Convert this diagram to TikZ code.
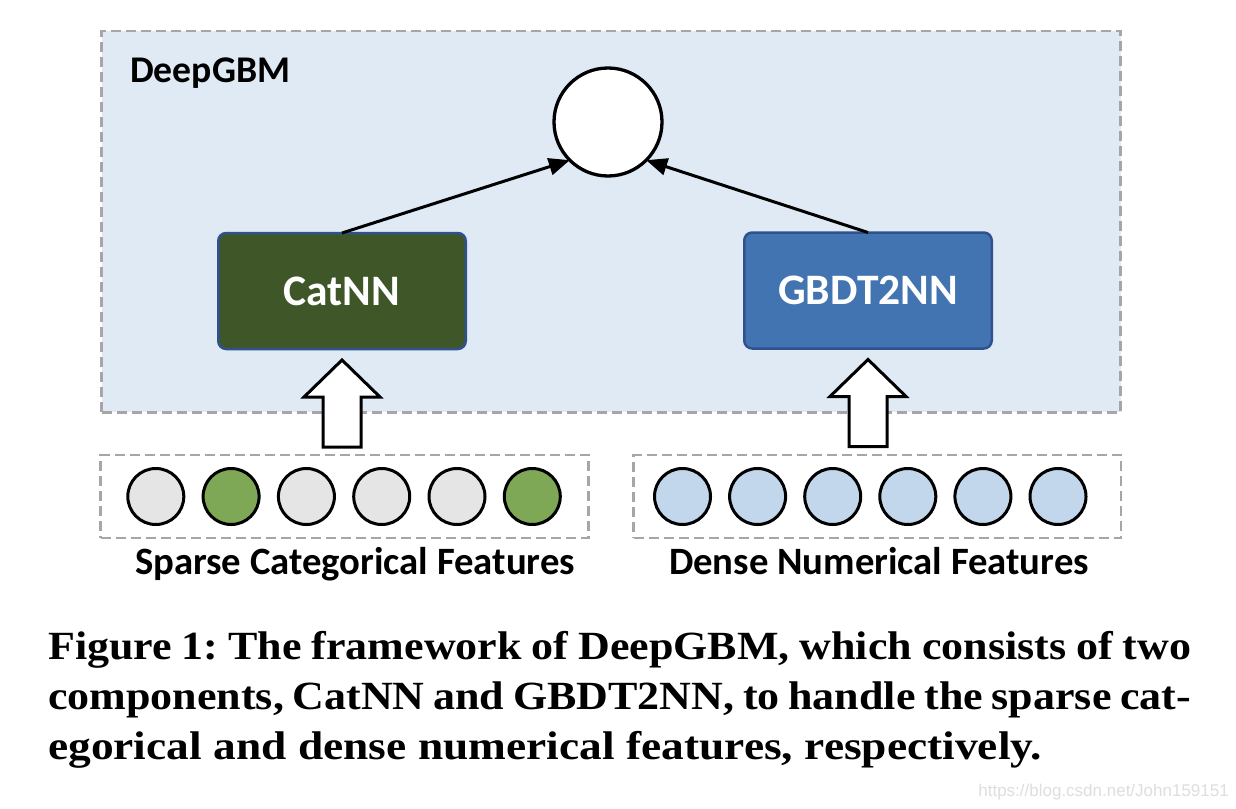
\documentclass[tikz,border=0pt]{standalone}
\usepackage{fontspec}
\setmainfont{Liberation Serif}
\newfontfamily\carl{Carlito}
\newfontfamily\capfont[FakeStretch=1.1]{Liberation Serif}
\newfontfamily\capfontwide[FakeStretch=1.135]{Liberation Serif}
\newfontfamily\wmfont{Liberation Sans}
\usetikzlibrary{arrows.meta,calc}
\definecolor{bgblue}{HTML}{DFEAF5}
\definecolor{dashgray}{HTML}{A6A6A6}
\definecolor{catgreen}{HTML}{3F5629}
\definecolor{gbdtblue}{HTML}{4174B0}
\definecolor{boxborder}{HTML}{2F528F}
\definecolor{featgray}{HTML}{E5E5E5}
\definecolor{featgreen}{HTML}{7EA856}
\definecolor{featblue}{HTML}{C2D6EC}
\frenchspacing
\tikzset{
  dashbox/.style={draw=dashgray, line width=2.5, dash pattern=on 10pt off 5pt, inner sep=0, outer sep=0},
  model/.style={draw=boxborder, line width=2.5, rounded corners=8pt, inner sep=0, outer sep=0,
    minimum width=247.5, minimum height=116, text=white, font=\carl\bfseries\fontsize{43.5}{43.5}\selectfont},
  conn/.style={line width=3, -{Triangle[length=21pt,width=17pt]}},
  blockarrow/.style={draw, line width=3, fill=white, line join=miter},
  feat/.style={circle, draw, line width=3, minimum size=56, inner sep=0, outer sep=0},
  lbl/.style={anchor=base, inner sep=0, font=\carl\bfseries\fontsize{38.7}{38.7}\selectfont},
  capline/.style={anchor=base west, inner sep=0, font=\capfont\bfseries\fontsize{40}{40}\selectfont},
}
\begin{document}
\begin{tikzpicture}[x=1pt,y=-1pt]
\useasboundingbox (0,0) rectangle (1236,808);
\fill[white] (0,0) rectangle (1236,808);
% DeepGBM container
\node[dashbox, fill=bgblue, minimum width=1019, minimum height=381] (deepgbm) at (611,221.75) {};
\node[anchor=base west, inner sep=0, font=\carl\bfseries\fontsize{37.7}{37.7}\selectfont] (title) at (130,82.7) {DeepGBM};
% output circle
\node[circle, draw, line width=3.3, fill=white, minimum size=108, inner sep=0, outer sep=0] (out) at (608,122) {};
% models
\node[model, fill=catgreen] (catnn) at (342,291) {CatNN};
\node[model, fill=gbdtblue] (gbdt) at (868,290.5) {GBDT2NN};
\draw[conn] (catnn.north) -- (out.225);
\draw[conn] (gbdt.north) -- (out.315);
% feature boxes
\node[dashbox, minimum width=488, minimum height=83] (sparse) at (344.6,496.5) {};
\node[dashbox, minimum width=487.5, minimum height=83] (dense) at (877.4,496.5) {};
\foreach \c [count=\i] in {featgray,featgreen,featgray,featgray,featgray,featgreen}
  \node[feat, fill=\c] (s\i) at ({155.8+75.3*(\i-1)},496.5) {};
\foreach \i in {1,...,6}
  \node[feat, fill=featblue] (d\i) at ({682.5+75.1*(\i-1)},496.5) {};
% block arrows
\draw[blockarrow] ([yshift=-11pt]catnn.south) -- ++(38,37) -- ++(-19,0) -- ++(0,50) -- ++(-38,0) -- ++(0,-50) -- ++(-19,0) -- cycle;
\draw[blockarrow] ([yshift=-11pt]gbdt.south) -- ++(38,37) -- ++(-19,0) -- ++(0,50) -- ++(-38,0) -- ++(0,-50) -- ++(-19,0) -- cycle;
% labels
\node[lbl] (slabel) at (355,574) {Sparse Categorical Features};
\node[lbl] (dlabel) at (879,574) {Dense Numerical Features};
% caption
\node[capline] (cap1) at (48,659) {\makebox[1143pt][s]{Figure 1: The framework of DeepGBM, which consists of two}};
\node[capline] (cap2) at (48,709) {\makebox[1143pt][s]{components, CatNN and GBDT2NN, to handle the sparse cat-}};
\node[capline, font=\capfontwide\bfseries\fontsize{40}{40}\selectfont] (cap3) at (48,759) {\makebox[994pt][s]{egorical and dense numerical features, respectively.}};
% watermark
\node[anchor=base east, inner sep=0, font=\wmfont\fontsize{17}{17}\selectfont, text=black!13] (wm) at (1229,796) {https://blog.csdn.net/John159151};
\end{tikzpicture}
\end{document}
